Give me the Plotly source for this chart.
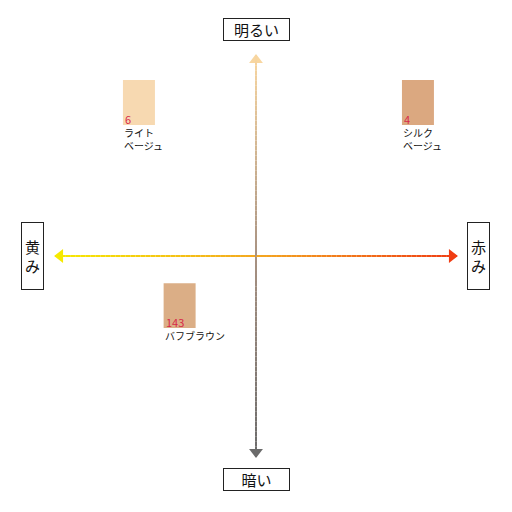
import plotly.graph_objects as go

# shade positioning map: x = yellow(-) .. red(+), y = dark(-) .. bright(+)
shade_names = [["ライト", "ベージュ"], ["シルク", "ベージュ"], ["バフブラウン"]]
shade_numbers = ["6", "4", "143"]
shade_x = [-0.472, 0.653, -0.308]
shade_y = [0.619, 0.619, -0.200]
shade_colors = ["#f7d9b1", "#dba880", "#dbae86"]

axis_labels = {"top": "明るい", "bottom": "暗い", "left": "黄<br>み", "right": "赤<br>み"}

FONT = "Noto Sans CJK JP"
AX = 0.81             # arrow extent
SW, SH = 0.129, 0.181  # swatch size in axis units


def hex2rgb(h):
    h = h.lstrip("#")
    return [int(h[i:i + 2], 16) for i in (0, 2, 4)]


def blend(stops, t):
    for (p0, c0), (p1, c1) in zip(stops, stops[1:]):
        if p0 <= t <= p1:
            f = (t - p0) / (p1 - p0) if p1 > p0 else 0
            a, b = hex2rgb(c0), hex2rgb(c1)
            return "rgb({},{},{})".format(*[round(a[i] + (b[i] - a[i]) * f) for i in range(3)])
    return stops[-1][1]


h_stops = [(0, "#f6ea00"), (0.5, "#f4a820"), (1, "#f03c12")]
v_stops = [(0, "#6a6a6a"), (0.5, "#a89282"), (1, "#f8d6a0")]

shapes = []
n_seg = 80
for i in range(n_seg):
    t0, t1 = i / n_seg, (i + 1) / n_seg
    tm = (t0 + t1) / 2
    shapes.append(dict(type="line", xref="x", yref="y",
                       x0=-AX + 2 * AX * t0, x1=-AX + 2 * AX * t1, y0=0, y1=0,
                       line=dict(color=blend(h_stops, tm), width=2)))
    shapes.append(dict(type="line", xref="x", yref="y",
                       x0=0, x1=0, y0=-AX + 2 * AX * t0, y1=-AX + 2 * AX * t1,
                       line=dict(color=blend(v_stops, tm), width=2)))

# swatches
for x, y, c in zip(shade_x, shade_y, shade_colors):
    shapes.append(dict(type="rect", xref="x", yref="y",
                       x0=x - SW / 2, x1=x + SW / 2, y0=y - SH / 2, y1=y + SH / 2,
                       fillcolor=c, line=dict(width=0), layer="below"))

fig = go.Figure()

# arrowheads
fig.add_trace(go.Scatter(
    x=[-AX + 0.02, AX - 0.02, 0, 0],
    y=[0, 0, AX - 0.02, -AX + 0.02],
    mode="markers",
    marker=dict(symbol=["triangle-left", "triangle-right", "triangle-up", "triangle-down"],
                size=12,
                color=[h_stops[0][1], h_stops[-1][1], v_stops[-1][1], v_stops[0][1]],
                line=dict(width=0)),
    hoverinfo="skip", showlegend=False,
))

annotations = []
for name, num, x, y in zip(shade_names, shade_numbers, shade_x, shade_y):
    left, bottom = x - SW / 2, y - SH / 2
    annotations.append(dict(x=left, y=bottom, text=num, showarrow=False,
                            xanchor="left", yanchor="bottom", xshift=1, yshift=0,
                            height=11, borderpad=0,
                            font=dict(family=FONT, size=11, color="#d82848")))
    annotations.append(dict(x=left, y=bottom, text="<br>".join(name),
                            showarrow=False, xanchor="left", yanchor="top", align="left",
                            yshift=1, borderpad=0,
                            font=dict(family=FONT, size=10, color="#111111")))

box = dict(showarrow=False, bgcolor="white", bordercolor="#222222", borderwidth=1,
           borderpad=1, font=dict(family=FONT, size=15, color="#111111"))
annotations.append(dict(x=0, y=0.915, text=axis_labels["top"], width=63, height=19, **box))
annotations.append(dict(x=0, y=-0.903, text=axis_labels["bottom"], width=63, height=19, **box))
annotations.append(dict(x=-0.901, y=0, text=axis_labels["left"], width=19, height=64, **box))
annotations.append(dict(x=0.897, y=0, text=axis_labels["right"], width=19, height=64, **box))

fig.update_layout(
    width=496, height=496,
    margin=dict(l=0, r=0, t=0, b=0),
    paper_bgcolor="white", plot_bgcolor="white",
    xaxis=dict(range=[-1, 1], visible=False, fixedrange=True),
    yaxis=dict(range=[-1, 1], visible=False, fixedrange=True),
    shapes=shapes,
    annotations=annotations,
    showlegend=False,
)

fig.write_html("out.html")
